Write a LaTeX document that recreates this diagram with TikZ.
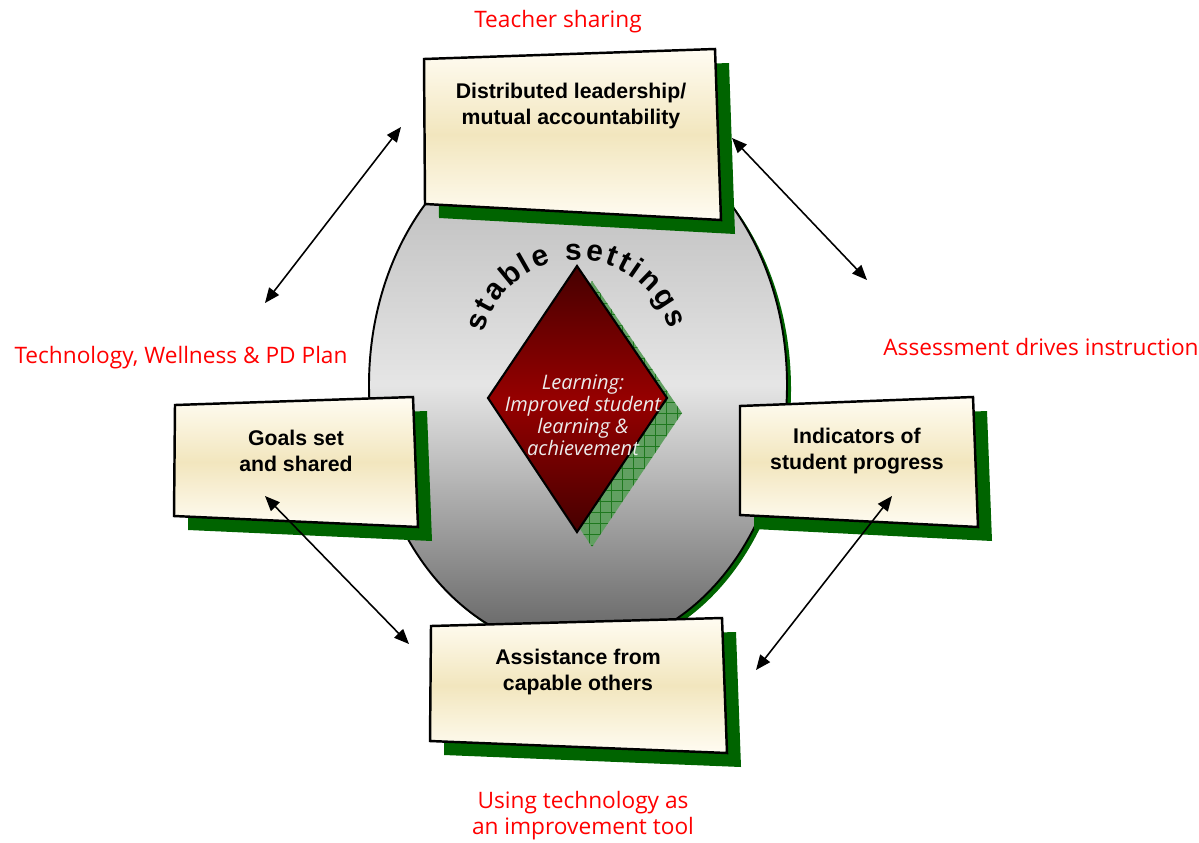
\documentclass[tikz,border=0pt]{standalone}
\usepackage{fontspec}
\setmainfont{Liberation Sans}
\newfontfamily\notefont{Open Sans}
\usetikzlibrary{arrows.meta,decorations.text,patterns.meta}
\definecolor{shadowgreen}{RGB}{0,100,0}
\definecolor{hatchgreen}{RGB}{30,120,30}
\definecolor{notered}{RGB}{255,0,0}
\definecolor{boxtan}{RGB}{242,230,190}
\definecolor{boxlight}{RGB}{255,252,242}
\definecolor{gemred}{RGB}{150,0,0}
\definecolor{gemdark}{RGB}{70,0,0}
\begin{document}
\begin{tikzpicture}[x=0.02cm, y=0.02cm,
	notebox/.style={draw=black, line width=1.4pt, top color=boxlight, bottom color=boxlight, middle color=boxtan},
	boxshadow/.style={fill=shadowgreen, shift={(14,-14)}},
	boxtext/.style={align=center, font=\fontsize{12.1}{14.4}\selectfont\bfseries},
	note/.style={text=notered, align=center, font=\notefont\fontsize{12.9}{14.8}\selectfont},
	twoway/.style={{Triangle[length=8.5pt,width=7pt]}-{Triangle[length=8.5pt,width=7pt]}, line width=0.9pt}]
		\useasboundingbox (0,0) rectangle (1199,-842);
		% stable settings
		\fill[shadowgreen] (582,-389) ellipse (209 and 265);
		\draw[line width=1.1pt, top color=gray!60, bottom color=gray!75!black, middle color=gray!20] (578,-385) ellipse (209 and 265);
		% four boxes
		\fill[boxshadow] (424,-59) -- (715,-49) -- (721,-220) -- (425,-204) -- cycle;
		\draw[notebox] (424,-59) -- (715,-49) -- (721,-220) -- (425,-204) -- cycle;
		\fill[boxshadow] (175,-405) -- (413,-397) -- (418,-527) -- (174,-516) -- cycle;
		\draw[notebox] (175,-405) -- (413,-397) -- (418,-527) -- (174,-516) -- cycle;
		\fill[boxshadow] (740,-406) -- (973,-397) -- (978,-527) -- (740,-515) -- cycle;
		\draw[notebox] (740,-406) -- (973,-397) -- (978,-527) -- (740,-515) -- cycle;
		\fill[boxshadow] (431,-626) -- (722,-618) -- (727,-753) -- (430,-741) -- cycle;
		\draw[notebox] (431,-626) -- (722,-618) -- (727,-753) -- (430,-741) -- cycle;
		\node[boxtext] (lead) at (571,-106) {Distributed leadership/\\mutual accountability};
		\node[boxtext] (goals) at (296,-451) {Goals set\\and shared};
		\node[boxtext] (indic) at (857,-451) {Indicators of\\student progress};
		\node[boxtext] (assist) at (578,-672) {Assistance from\\capable others};
		% learning diamond
		\fill[fill=hatchgreen!70!white, shift={(15,-15)}] (577,-266) -- (667,-398) -- (577,-532) -- (488,-398) -- cycle;
		\fill[pattern={Hatch[distance=6.5pt, line width=0.5pt]}, pattern color=hatchgreen, shift={(15,-15)}] (577,-266) -- (667,-398) -- (577,-532) -- (488,-398) -- cycle;
		\draw[line width=1.2pt, top color=gemdark, bottom color=gemdark, middle color=gemred] (577,-266) -- (667,-398) -- (577,-532) -- (488,-398) -- cycle;
		\node[text=gray!15, align=center, font=\notefont\itshape\fontsize{11.4}{12.6}\selectfont] (learn) at (583,-415) {Learning:\\Improved student\\learning \&\\achievement};
		\path[decorate, decoration={text along path, text align={fit to path},
			text={|\fontsize{17}{20}\selectfont\bfseries|stable settings}}]
			(577,-356) ++(166:96) arc (166:16:96);
		% red notes
		\node[note] (share) at (558,-22) {Teacher sharing};
		\node[note] (plan) at (181,-358) {Technology, Wellness \& PD Plan};
		\node[note] (assess) at (1041,-347) {Assessment drives instruction};
		\node[note] (tool) at (583,-816) {Using technology as\\an improvement tool};
		% arrows
		\coordinate (a1) at (401,-127);
		\coordinate (b1) at (265,-303);
		\coordinate (a2) at (732,-138);
		\coordinate (b2) at (867,-280);
		\coordinate (a3) at (265,-496);
		\coordinate (b3) at (409,-644);
		\coordinate (a4) at (892,-496);
		\coordinate (b4) at (756,-670);
		\draw[twoway] (a1) -- (b1);
		\draw[twoway] (a2) -- (b2);
		\draw[twoway] (a3) -- (b3);
		\draw[twoway] (a4) -- (b4);
\end{tikzpicture}
\end{document}
